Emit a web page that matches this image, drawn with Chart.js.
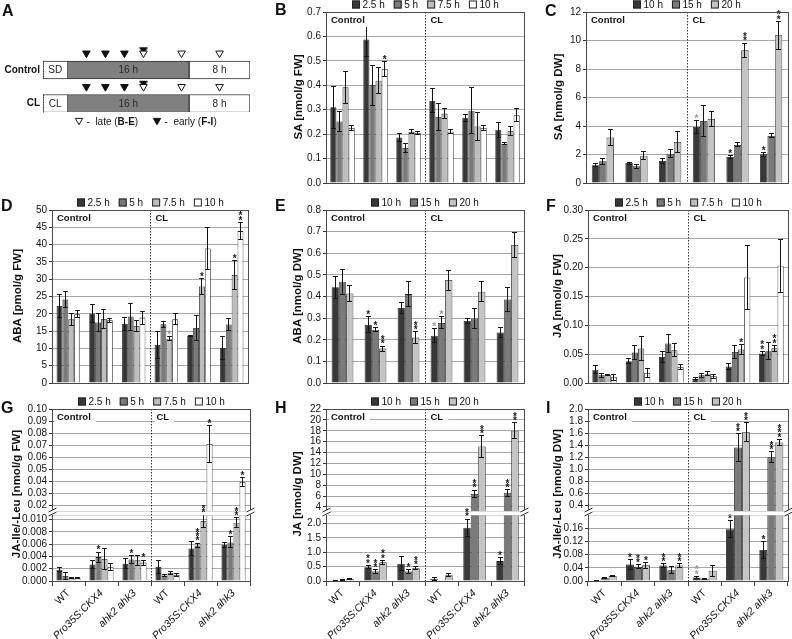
<!DOCTYPE html>
<html>
<head>
<meta charset="utf-8">
<title>Hormone levels</title>
<script src="https://cdn.jsdelivr.net/npm/chart.js@4.4.1/dist/chart.umd.min.js"></script>
<style>
html, body { margin: 0; padding: 0; background: #fff; }
#root { position: relative; width: 792px; height: 639px; overflow: hidden; background: #fff; font-family: "Liberation Sans", Arial, Helvetica, sans-serif; color: #111; }
#root canvas { position: absolute; }
.pl { position: absolute; font-weight: bold; font-size: 16px; line-height: 16px; }
.yt { position: absolute; font-weight: bold; font-size: 11.5px; line-height: 12px; white-space: nowrap; transform: translate(-50%, -50%) rotate(-90deg); }
</style>
</head>
<body>
<div id="root"></div>
<script>
// ================= DATA =================
const groups = ['WT', 'Pro35S:CKX4', 'ahk2 ahk3', 'WT', 'Pro35S:CKX4', 'ahk2 ahk3'];
const sections = ['Control', 'CL'];
const times4 = ['2.5 h', '5 h', '7.5 h', '10 h'];
const times3 = ['10 h', '15 h', '20 h'];

// Panel A (schedule)
const A_rows = ['Control', 'CL'];
const A_segText = [['SD', '16 h', '8 h'], ['CL', '16 h', '8 h']];
const A_pre = -3.2;
const A_light = 16;
const A_dark = 8;
const A_late = [10, 15, 20];
const A_early = [2.5, 5, 7.5, 10];

// Panel B: SA [nmol/g FW]
const B_mean = [
  [0.310, 0.587, 0.186, 0.336, 0.267, 0.218],
  [0.252, 0.401, 0.143, 0.270, 0.296, 0.160],
  [0.392, 0.419, 0.209, 0.284, 0.231, 0.213],
  [0.225, 0.467, 0.205, 0.210, 0.225, 0.277]
];
const B_err = [
  [0.086, 0.068, 0.015, 0.049, 0.015, 0.030],
  [0.040, 0.082, 0.020, 0.057, 0.095, 0.004],
  [0.065, 0.052, 0.008, 0.019, 0.056, 0.019],
  [0.011, 0.030, 0.006, 0.008, 0.010, 0.026]
];
const B_sig = [
  ['', '', '', '', '', ''],
  ['', '', '', '', '', ''],
  ['', '', '', '', '', ''],
  ['', '*', '', '', '', '']
];
const B_ticks = [0, 0.1, 0.2, 0.3, 0.4, 0.5, 0.6, 0.7];
const B_tickLabels = ['0.0', '0.1', '0.2', '0.3', '0.4', '0.5', '0.6', '0.7'];

// Panel C: SA [nmol/g DW]
const C_mean = [
  [1.25, 1.40, 1.54, 3.93, 1.82, 2.01],
  [1.52, 1.17, 2.06, 4.35, 2.67, 3.30],
  [3.20, 1.92, 2.88, 4.49, 9.31, 10.36]
];
const C_err = [
  [0.12, 0.07, 0.20, 0.47, 0.10, 0.14],
  [0.22, 0.12, 0.28, 1.08, 0.14, 0.14],
  [0.54, 0.30, 0.75, 0.54, 0.51, 0.99]
];
const C_sig = [
  ['', '', '', '', '*', '*'],
  ['', '', '', '', '', ''],
  ['', '', '', '', '**', '**']
];
const C_sigGray = [
  ['', '', '', '*', '', ''],
  ['', '', '', '', '', ''],
  ['', '', '', '', '', '']
];
const C_ticks = [0, 2, 4, 6, 8, 10, 12];
const C_tickLabels = ['0', '2', '4', '6', '8', '10', '12'];

// Panel D: ABA [pmol/g FW]
const D_mean = [
  [22.3, 20.1, 17.1, 11.0, 13.6, 10.1],
  [24.1, 17.5, 19.2, 17.0, 15.9, 16.9],
  [18.4, 18.5, 16.5, 12.8, 27.9, 31.2],
  [19.9, 18.1, 18.9, 18.4, 38.9, 43.9]
];
const D_err = [
  [3.3, 2.7, 1.8, 4.0, 0.2, 3.2],
  [2.3, 2.5, 3.9, 0.9, 3.7, 1.7],
  [1.7, 2.8, 1.6, 0.6, 2.3, 4.1],
  [1.0, 0.5, 1.9, 1.6, 6.1, 2.5]
];
const D_sig = [
  ['', '', '', '', '', ''],
  ['', '', '', '', '', ''],
  ['', '', '', '', '*', '*'],
  ['', '', '', '', '', '**']
];
const D_sigGray = [
  ['', '', '', '', '', ''],
  ['', '', '', '', '', ''],
  ['', '', '', '*', '', ''],
  ['', '', '', '', '', '']
];
const D_ticks = [0, 5, 10, 15, 20, 25, 30, 35, 40, 45, 50];
const D_tickLabels = ['0', '5', '10', '15', '20', '25', '30', '35', '40', '45', '50'];

// Panel E: ABA [nmol/g DW]
const E_mean = [
  [0.443, 0.269, 0.347, 0.219, 0.287, 0.233],
  [0.468, 0.246, 0.411, 0.278, 0.298, 0.386],
  [0.414, 0.159, 0.210, 0.476, 0.422, 0.638]
];
const E_err = [
  [0.051, 0.037, 0.024, 0.033, 0.013, 0.023],
  [0.057, 0.010, 0.057, 0.028, 0.046, 0.054],
  [0.039, 0.012, 0.028, 0.046, 0.046, 0.057]
];
const E_sig = [
  ['', '*', '', '', '', ''],
  ['', '*', '', '', '', ''],
  ['', '**', '**', '', '', '']
];
const E_sigGray = [
  ['', '', '', '*', '', ''],
  ['', '', '', '*', '', ''],
  ['', '', '', '', '', '']
];
const E_ticks = [0, 0.1, 0.2, 0.3, 0.4, 0.5, 0.6, 0.7, 0.8];
const E_tickLabels = ['0.0', '0.1', '0.2', '0.3', '0.4', '0.5', '0.6', '0.7', '0.8'];

// Panel F: JA [nmol/g FW]
const F_mean = [
  [0.0230, 0.0377, 0.0452, 0.0070, 0.0284, 0.0510],
  [0.0133, 0.0527, 0.0684, 0.0133, 0.0539, 0.0550],
  [0.0145, 0.0597, 0.0568, 0.0162, 0.0580, 0.0603],
  [0.0098, 0.0174, 0.0278, 0.0116, 0.1830, 0.2034]
];
const F_err = [
  [0.0065, 0.0046, 0.0098, 0.0017, 0.0052, 0.0040],
  [0.0040, 0.0116, 0.0156, 0.0030, 0.0116, 0.0150],
  [0.0010, 0.0203, 0.0110, 0.0030, 0.0092, 0.0050],
  [0.0047, 0.0076, 0.0046, 0.0030, 0.0550, 0.0460]
];
const F_sig = [
  ['', '', '', '', '', '**'],
  ['', '', '', '', '', ''],
  ['', '', '', '', '*', '**'],
  ['', '', '', '', '', '']
];
const F_ticks = [0, 0.05, 0.10, 0.15, 0.20, 0.25, 0.30];
const F_tickLabels = ['0.00', '0.05', '0.10', '0.15', '0.20', '0.25', '0.30'];

// Panel G: JA-Ile/-Leu [nmol/g FW] (broken axis)
const G_mean = [
  [0.00185, 0.0027, 0.0028, 0.0023, 0.0053, 0.0059],
  [0.00082, 0.0039, 0.0035, 0.0009, 0.0058, 0.0063],
  [0.00043, 0.0036, 0.0034, 0.0013, 0.0098, 0.0095],
  [0.00043, 0.0023, 0.0030, 0.0010, 0.0710, 0.0395]
];
const G_err = [
  [0.0003, 0.0006, 0.0008, 0.0011, 0.0012, 0.0004],
  [0.0005, 0.0008, 0.0007, 0.0002, 0.0004, 0.0009],
  [0.0001, 0.0017, 0.0008, 0.0003, 0.0010, 0.0008],
  [0.0001, 0.0006, 0.0004, 0.0003, 0.0155, 0.0035]
];
const G_sig = [
  ['', '', '', '', '', ''],
  ['', '*', '*', '', '***', '*'],
  ['', '', '', '', '**', '**'],
  ['', '', '*', '', '*', '*']
];
const G_upperTicks = [0.02, 0.03, 0.04, 0.05, 0.06, 0.07, 0.08, 0.09, 0.10];
const G_upperLabels = ['0.02', '0.03', '0.04', '0.05', '0.06', '0.07', '0.08', '0.09', '0.10'];
const G_lowerTicks = [0, 0.002, 0.004, 0.006, 0.008, 0.010];
const G_lowerLabels = ['0.000', '0.002', '0.004', '0.006', '0.008', '0.010'];
const G_break = [0.01077, 0.01527];

// Panel H: JA [nmol/g DW] (broken axis)
const H_mean = [
  [0.02, 0.48, 0.60, 0.08, 1.85, 0.69],
  [0.03, 0.33, 0.33, 0.01, 6.4, 6.6],
  [0.07, 0.65, 0.44, 0.20, 15.1, 18.0]
];
const H_err = [
  [0.005, 0.06, 0.24, 0.05, 0.30, 0.12],
  [0.005, 0.06, 0.06, 0.00, 0.70, 0.60],
  [0.02, 0.07, 0.05, 0.05, 2.0, 1.5]
];
const H_sig = [
  ['', '**', '', '', '**', '*'],
  ['', '**', '*', '', '**', '**'],
  ['', '**', '**', '', '**', '**']
];
const H_upperTicks = [4, 6, 8, 10, 12, 14, 16, 18, 20, 22];
const H_upperLabels = ['4', '6', '8', '10', '12', '14', '16', '18', '20', '22'];
const H_lowerTicks = [0, 0.5, 1.0, 1.5, 2.0];
const H_lowerLabels = ['0.0', '0.5', '1.0', '1.5', '2.0'];
const H_break = [2.29, 3.26];

// Panel I: JA-Ile/-Leu [nmol/g DW] (broken axis)
const I_mean = [
  [0.002, 0.050, 0.047, 0.011, 0.157, 0.094],
  [0.010, 0.043, 0.033, 0.007, 1.364, 1.200],
  [0.015, 0.048, 0.047, 0.031, 1.616, 1.446]
];
const I_err = [
  [0.001, 0.016, 0.006, 0.003, 0.026, 0.025],
  [0.002, 0.006, 0.010, 0.001, 0.230, 0.090],
  [0.002, 0.009, 0.006, 0.017, 0.160, 0.050]
];
const I_sig = [
  ['', '*', '**', '', '*', '*'],
  ['', '**', '', '', '**', '**'],
  ['', '*', '**', '', '**', '***']
];
const I_sigGray = [
  ['', '', '', '**', '', ''],
  ['', '', '', '', '', ''],
  ['', '', '', '', '', '']
];
const I_upperTicks = [0.4, 0.6, 0.8, 1.0, 1.2, 1.4, 1.6, 1.8, 2.0];
const I_upperLabels = ['0.4', '0.6', '0.8', '1.0', '1.2', '1.4', '1.6', '1.8', '2.0'];
const I_lowerTicks = [0, 0.04, 0.08, 0.12, 0.16];
const I_lowerLabels = ['0.00', '0.04', '0.08', '0.12', '0.16'];
const I_break = [0.2006, 0.3125];

// ================= STYLE =================
const FONT = '"Liberation Sans", Arial, Helvetica, sans-serif';
const COL4 = ['#383838', '#7a7a7a', '#bdbdbd', '#ffffff'];
const COL3 = ['#383838', '#7a7a7a', '#c4c4c4'];
Chart.defaults.font.family = FONT;
Chart.defaults.color = '#111';

const root = document.getElementById('root');
function addCanvas(x, y, w, h) {
  const c = document.createElement('canvas');
  c.width = w; c.height = h;
  c.style.left = x + 'px'; c.style.top = y + 'px';
  c.style.width = w + 'px'; c.style.height = h + 'px';
  root.appendChild(c);
  return c;
}
function al(v) { return Math.round(v - 0.5) + 0.5; }

function drawErrorsAndStars(chart, p, part) {
  const ctx = chart.ctx, ar = chart.chartArea, ys = chart.scales.y;
  ctx.save();
  ctx.beginPath();
  ctx.rect(ar.left, ar.top, ar.right - ar.left, ar.bottom - ar.top);
  ctx.clip();
  ctx.strokeStyle = '#151515';
  ctx.lineWidth = 1;
  p.mean.forEach((ser, d) => {
    const meta = chart.getDatasetMeta(d);
    ser.forEach((m, j) => {
      const e = p.err[d][j];
      if (!e) return;
      const el = meta.data[j];
      const x = al(el.x);
      const yt = ys.getPixelForValue(m + e);
      const yb = ys.getPixelForValue(Math.max(m - e, 0));
      const cw = Math.min(2.5, el.width * 0.4);
      ctx.beginPath();
      ctx.moveTo(x, yb); ctx.lineTo(x, yt);
      ctx.moveTo(x - cw, al(yt)); ctx.lineTo(x + cw, al(yt));
      ctx.moveTo(x - cw, al(yb)); ctx.lineTo(x + cw, al(yb));
      ctx.stroke();
    });
  });
  ctx.restore();

  ctx.save();
  ctx.textAlign = 'center';
  ctx.textBaseline = 'alphabetic';
  ctx.font = 'bold 10px ' + FONT;
  const drawSet = (sigs, color) => {
    if (!sigs) return;
    sigs.forEach((ser, d) => {
      const meta = chart.getDatasetMeta(d);
      ser.forEach((s, j) => {
        if (!s) return;
        const m = p.mean[d][j];
        if (part === 'upper' && m <= p.split) return;
        if (part === 'lower' && m > p.split) return;
        const x = meta.data[j].x;
        const yt = ys.getPixelForValue(m + p.err[d][j]);
        ctx.fillStyle = color;
        for (let k = 0; k < s.length; k++) {
          const cy = yt - 4.5 - k * 4.3;
          ctx.fillText('*', x, cy + 5.8);
        }
      });
    });
  };
  drawSet(p.sig, '#1a1a1a');
  drawSet(p.sigGray, '#9a9a9a');
  ctx.restore();
}

function drawDeco(chart, p, part) {
  const ctx = chart.ctx, ar = chart.chartArea, xs = chart.scales.x;
  const L = al(ar.left), R = al(ar.right), T = al(ar.top), B = al(ar.bottom);
  const div = al((xs.getPixelForValue(2) + xs.getPixelForValue(3)) / 2);
  ctx.save();
  if (part !== 'lower') {
    ctx.font = 'bold 9.5px ' + FONT;
    ctx.textBaseline = 'middle';
    ctx.textAlign = 'left';
    [[ar.left + 5, sections[0]], [div + 5, sections[1]]].forEach(([x, t]) => {
      const tw = ctx.measureText(t).width;
      ctx.fillStyle = '#fff';
      ctx.fillRect(x - 2, ar.top + 2, tw + 7, 13);
      ctx.fillStyle = '#111';
      ctx.fillText(t, x, ar.top + 8.5);
    });
  }
  // divider
  ctx.strokeStyle = '#333';
  ctx.lineWidth = 1;
  ctx.setLineDash([1.5, 1.5]);
  ctx.beginPath();
  ctx.moveTo(div, part === 'lower' ? ar.top - 4 : ar.top);
  ctx.lineTo(div, ar.bottom);
  ctx.stroke();
  // break lines
  ctx.strokeStyle = '#b0b0b0';
  ctx.setLineDash([1, 1]);
  if (part === 'upper') { ctx.beginPath(); ctx.moveTo(L, B); ctx.lineTo(R, B); ctx.stroke(); }
  if (part === 'lower') { ctx.beginPath(); ctx.moveTo(L, T); ctx.lineTo(R, T); ctx.stroke(); }
  ctx.setLineDash([]);
  // frame
  ctx.strokeStyle = '#4a4a4a';
  ctx.lineWidth = 1;
  ctx.beginPath();
  if (part !== 'lower') { ctx.moveTo(L - 0.5, T); ctx.lineTo(R + 0.5, T); }
  if (part !== 'upper') { ctx.moveTo(L - 0.5, B); ctx.lineTo(R + 0.5, B); }
  ctx.moveTo(L, ar.top); ctx.lineTo(L, ar.bottom);
  ctx.moveTo(R, ar.top); ctx.lineTo(R, ar.bottom);
  ctx.stroke();
  // break slashes
  if (part === 'lower') {
    [L, R].forEach(x => {
      ctx.fillStyle = '#fff';
      ctx.beginPath();
      ctx.moveTo(x - 4, ar.top + 1); ctx.lineTo(x + 4, ar.top - 3);
      ctx.lineTo(x + 4, ar.top - 7); ctx.lineTo(x - 4, ar.top - 3);
      ctx.closePath(); ctx.fill();
      ctx.strokeStyle = '#333';
      ctx.beginPath();
      ctx.moveTo(x - 4, ar.top + 1); ctx.lineTo(x + 4, ar.top - 3);
      ctx.moveTo(x - 4, ar.top - 3); ctx.lineTo(x + 4, ar.top - 7);
      ctx.stroke();
    });
  }
  // legend
  if (part !== 'lower') {
    ctx.font = '10px ' + FONT;
    ctx.textBaseline = 'middle';
    ctx.textAlign = 'left';
    const box = 8, gap = 2.5, sp = 9;
    const items = p.series.map((s, i) => ({ t: s, c: p.colors[i], w: ctx.measureText(s).width }));
    const total = items.reduce((acc, it) => acc + box + gap + it.w, 0) + sp * (items.length - 1);
    let x = Math.round((ar.left + ar.right) / 2 - total / 2);
    const yc = ar.top - 7.5;
    items.forEach(it => {
      ctx.fillStyle = it.c;
      ctx.fillRect(x, yc - 4, box, box);
      ctx.strokeStyle = '#222';
      ctx.lineWidth = 1;
      ctx.strokeRect(x + 0.5, yc - 3.5, box - 1, box - 1);
      ctx.fillStyle = '#111';
      ctx.fillText(it.t, x + box + gap, yc + 0.5);
      x += box + gap + it.w + sp;
    });
  }
  ctx.restore();
}

function barPanel(p) {
  const a = p.area, part = p.part || 'full';
  const showX = part === 'lower';
  const topPad = part === 'lower' ? 10 : 22;
  const yw = 50;
  const x0 = a.l - yw, y0 = a.t - topPad;
  const w = a.r + 5 - x0;
  const bottomSpace = showX ? 639 - a.b : 8;
  const h = a.b + bottomSpace - y0;
  const cv = addCanvas(x0, y0, w, h);
  const deco = {
    id: 'deco',
    afterDatasetsDraw(chart) { drawErrorsAndStars(chart, p, part); },
    afterDraw(chart) { drawDeco(chart, p, part); }
  };
  return new Chart(cv, {
    type: 'bar',
    data: {
      labels: groups,
      datasets: p.series.map((s, i) => ({
        label: s,
        data: p.mean[i],
        backgroundColor: p.colors[i],
        borderColor: '#1e1e1e',
        borderWidth: 0.8,
        categoryPercentage: p.cat,
        barPercentage: 1,
        clip: 0
      }))
    },
    options: {
      responsive: false,
      animation: false,
      devicePixelRatio: 1,
      events: [],
      layout: { padding: { top: topPad, right: 5, bottom: showX ? 0 : bottomSpace, left: 0 } },
      plugins: { legend: { display: false }, tooltip: { enabled: false } },
      scales: {
        x: {
          type: 'category',
          display: showX,
          offset: true,
          grid: { offset: true, drawOnChartArea: false, drawTicks: true, tickLength: 5, color: '#444', tickColor: '#444' },
          border: { display: false },
          ticks: {
            autoSkip: false, minRotation: 45, maxRotation: 45, padding: 1, color: '#111',
            font: (c) => ({ family: FONT, size: 10.5, style: groups[c.index] === 'WT' ? 'normal' : 'italic' })
          },
          afterFit: (s) => { if (showX) s.height = bottomSpace; }
        },
        y: {
          type: 'linear',
          min: p.min,
          max: p.max,
          bounds: 'data',
          afterBuildTicks: (s) => { s.ticks = p.ticks.map(v => ({ value: v })); },
          grid: { color: '#a9a9a9', lineWidth: 1, drawTicks: true, tickLength: 3, tickColor: '#333' },
          border: { display: false },
          ticks: {
            autoSkip: false, padding: 2, color: '#111',
            font: { family: FONT, size: 10 },
            callback: (v, i) => p.labels[i]
          },
          afterFit: (s) => { s.width = yw; }
        }
      }
    },
    plugins: [deco]
  });
}

// ================= PANEL A =================
(function () {
  const raised = document.createElement('canvas');
  raised.width = 10; raised.height = 18;
  const g = raised.getContext('2d');
  g.beginPath(); g.moveTo(1.2, 3.5); g.lineTo(8.8, 3.5); g.lineTo(5, 9.3); g.closePath();
  g.fillStyle = '#111'; g.fill(); g.strokeStyle = '#111'; g.lineWidth = 1; g.stroke();

  const labels = A_rows.flatMap(r => ['mark:' + r, r]);
  const seg = (s, e) => labels.map((l, i) => (i % 2 ? [s, e] : null));
  const cv = addCanvas(0, 0, 262, 140);
  const aDeco = {
    id: 'aDeco',
    afterDatasetsDraw(chart) {
      const ctx = chart.ctx, xs = chart.scales.x;
      ctx.save();
      ctx.font = '10px ' + FONT;
      ctx.textAlign = 'center';
      ctx.textBaseline = 'middle';
      [0, 1, 2].forEach(d => {
        const meta = chart.getDatasetMeta(d);
        chart.data.datasets[d].data.forEach((v, j) => {
          if (!v) return;
          const el = meta.data[j];
          const row = (j - 1) / 2;
          ctx.fillStyle = d === 1 ? '#2a2a2a' : '#222';
          ctx.fillText(A_segText[row][d], (el.x + el.base) / 2, el.y + 0.5);
        });
      });
      // dotted left edges
      const xl = al(xs.getPixelForValue(A_pre));
      const meta0 = chart.getDatasetMeta(0);
      ctx.strokeStyle = '#333';
      ctx.lineWidth = 1;
      ctx.setLineDash([1, 1.5]);
      chart.data.datasets[0].data.forEach((v, j) => {
        if (!v) return;
        const el = meta0.data[j];
        ctx.beginPath(); ctx.moveTo(xl, el.y - 9); ctx.lineTo(xl, el.y + 9); ctx.stroke();
      });
      ctx.setLineDash([]);
      // legend
      const tri = (x, y, r, filled) => {
        ctx.beginPath();
        ctx.moveTo(x - r * 0.866, y - r / 2); ctx.lineTo(x + r * 0.866, y - r / 2); ctx.lineTo(x, y + r);
        ctx.closePath();
        ctx.fillStyle = filled ? '#111' : '#fff'; ctx.fill();
        ctx.strokeStyle = '#111'; ctx.lineWidth = 1; ctx.stroke();
      };
      const yL = 121.5;
      const parts = (x, arr) => {
        ctx.textAlign = 'left';
        arr.forEach(([t, bold]) => {
          ctx.font = (bold ? 'bold ' : '') + '10px ' + FONT;
          ctx.fillStyle = '#111';
          ctx.fillText(t, x, yL + 0.5);
          x += ctx.measureText(t).width;
        });
      };
      tri(79, yL - 1, 4.2, false);
      parts(86.5, [['-  late (', false], ['B-E', true], [')', false]]);
      tri(157, yL - 1, 4.2, true);
      parts(164.5, [['-  early (', false], ['F-I', true], [')', false]]);
      ctx.restore();
    }
  };
  new Chart(cv, {
    type: 'bar',
    data: {
      labels: labels,
      datasets: [
        { type: 'bar', data: seg(A_pre, 0), backgroundColor: '#fff', borderColor: '#333', borderWidth: 1, borderSkipped: 'left', barThickness: 18, grouped: false },
        { type: 'bar', data: seg(0, A_light), backgroundColor: '#808080', borderColor: '#333', borderWidth: 1, borderSkipped: false, barThickness: 18, grouped: false },
        { type: 'bar', data: seg(A_light, A_light + A_dark), backgroundColor: '#fff', borderColor: '#333', borderWidth: 1, borderSkipped: false, barThickness: 18, grouped: false },
        { type: 'scatter', data: A_rows.flatMap(r => A_late.map(t => ({ x: t, y: 'mark:' + r }))),
          pointStyle: 'triangle', rotation: 180, pointRadius: 4.4, backgroundColor: '#fff', borderColor: '#111', borderWidth: 1 },
        { type: 'scatter', data: A_rows.flatMap(r => A_early.map(t => ({ x: t, y: 'mark:' + r }))),
          pointStyle: (c) => (c.raw && A_late.includes(c.raw.x)) ? raised : 'triangle',
          rotation: (c) => (c.raw && A_late.includes(c.raw.x)) ? 0 : 180,
          pointRadius: 4.4, backgroundColor: '#111', borderColor: '#111', borderWidth: 1 }
      ]
    },
    options: {
      indexAxis: 'y',
      responsive: false,
      animation: false,
      devicePixelRatio: 1,
      events: [],
      layout: { padding: { top: 44.875, bottom: 28.125, right: 12, left: 0 } },
      plugins: { legend: { display: false }, tooltip: { enabled: false } },
      scales: {
        x: { type: 'linear', min: A_pre, max: A_light + A_dark, display: false, offset: false },
        y: {
          type: 'category', offset: true,
          grid: { display: false, drawTicks: false },
          border: { display: false },
          ticks: { padding: 3, color: '#111', font: { size: 10, weight: 'bold' }, callback: (v, i) => (i % 2 ? labels[i] : '') },
          afterFit: (s) => { s.width = 43; }
        }
      }
    },
    plugins: [aDeco]
  });
})();

// ================= PANELS B-I =================
barPanel({ area: { l: 326, t: 12, r: 524, b: 183 }, series: times4, colors: COL4, mean: B_mean, err: B_err, sig: B_sig,
  min: 0, max: 0.7, ticks: B_ticks, labels: B_tickLabels, cat: 0.74 });
barPanel({ area: { l: 586, t: 12, r: 788, b: 183 }, series: times3, colors: COL3, mean: C_mean, err: C_err, sig: C_sig, sigGray: C_sigGray,
  min: 0, max: 12, ticks: C_ticks, labels: C_tickLabels, cat: 0.66 });
barPanel({ area: { l: 52, t: 210, r: 248, b: 383 }, series: times4, colors: COL4, mean: D_mean, err: D_err, sig: D_sig, sigGray: D_sigGray,
  min: 0, max: 50, ticks: D_ticks, labels: D_tickLabels, cat: 0.72 });
barPanel({ area: { l: 326, t: 210, r: 524, b: 383 }, series: times3, colors: COL3, mean: E_mean, err: E_err, sig: E_sig, sigGray: E_sigGray,
  min: 0, max: 0.8, ticks: E_ticks, labels: E_tickLabels, cat: 0.66 });
barPanel({ area: { l: 588, t: 210, r: 788, b: 383 }, series: times4, colors: COL4, mean: F_mean, err: F_err, sig: F_sig,
  min: 0, max: 0.30, ticks: F_ticks, labels: F_tickLabels, cat: 0.74 });

barPanel({ part: 'upper', area: { l: 52, t: 409, r: 250, b: 511 }, series: times4, colors: COL4, mean: G_mean, err: G_err, sig: G_sig,
  min: G_break[1], max: 0.10, ticks: G_upperTicks, labels: G_upperLabels, cat: 0.73, split: G_break[0] });
barPanel({ part: 'lower', area: { l: 52, t: 515, r: 250, b: 581 }, series: times4, colors: COL4, mean: G_mean, err: G_err, sig: G_sig,
  min: 0, max: G_break[0], ticks: G_lowerTicks, labels: G_lowerLabels, cat: 0.73, split: G_break[0] });

barPanel({ part: 'upper', area: { l: 326, t: 409, r: 524, b: 511 }, series: times3, colors: COL3, mean: H_mean, err: H_err, sig: H_sig,
  min: H_break[1], max: 22, ticks: H_upperTicks, labels: H_upperLabels, cat: 0.68, split: H_break[0] });
barPanel({ part: 'lower', area: { l: 326, t: 515, r: 524, b: 581 }, series: times3, colors: COL3, mean: H_mean, err: H_err, sig: H_sig,
  min: 0, max: H_break[0], ticks: H_lowerTicks, labels: H_lowerLabels, cat: 0.68, split: H_break[0] });

barPanel({ part: 'upper', area: { l: 588, t: 409, r: 788, b: 511 }, series: times3, colors: COL3, mean: I_mean, err: I_err, sig: I_sig, sigGray: I_sigGray,
  min: I_break[1], max: 2.0, ticks: I_upperTicks, labels: I_upperLabels, cat: 0.72, split: I_break[0] });
barPanel({ part: 'lower', area: { l: 588, t: 515, r: 788, b: 581 }, series: times3, colors: COL3, mean: I_mean, err: I_err, sig: I_sig, sigGray: I_sigGray,
  min: 0, max: I_break[0], ticks: I_lowerTicks, labels: I_lowerLabels, cat: 0.72, split: I_break[0] });

// ================= TEXT: panel letters and axis titles =================
[['A', 2, 3], ['B', 275, 2], ['C', 545, 3], ['D', 1, 198], ['E', 275, 198], ['F', 546, 198], ['G', 1, 400], ['H', 275, 400], ['I', 546, 400]]
  .forEach(([t, x, y]) => {
    const d = document.createElement('div');
    d.className = 'pl'; d.textContent = t; d.style.left = x + 'px'; d.style.top = y + 'px';
    root.appendChild(d);
  });
[['SA [nmol/g FW]', 298, 97], ['SA [nmol/g DW]', 558, 97], ['ABA [pmol/g FW]', 17, 296], ['ABA [nmol/g DW]', 297, 296],
 ['JA [nmol/g FW]', 557, 296], ['JA-Ile/-Leu [nmol/g FW]', 16, 494], ['JA [nmol/g DW]', 297, 494], ['JA-Ile/-Leu [nmol/g DW]', 557, 494]]
  .forEach(([t, x, y]) => {
    const d = document.createElement('div');
    d.className = 'yt'; d.textContent = t; d.style.left = x + 'px'; d.style.top = y + 'px';
    root.appendChild(d);
  });
</script>
</body>
</html>
